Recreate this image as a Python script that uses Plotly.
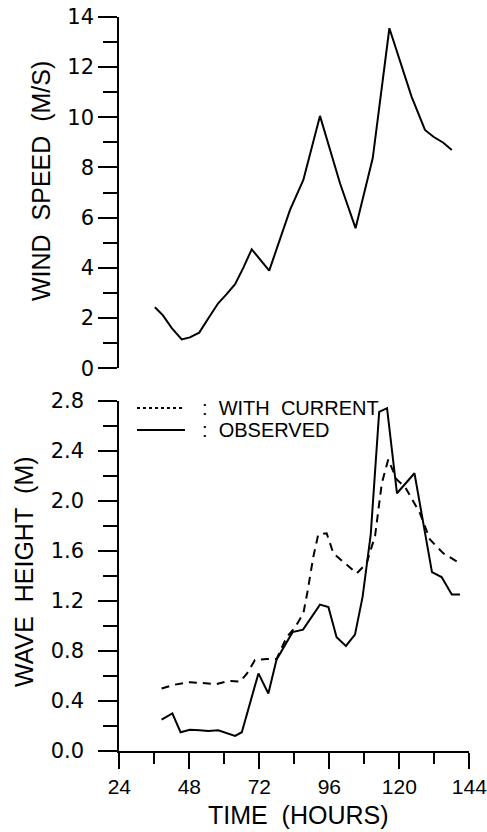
import plotly.graph_objects as go

# ---- data ----
wind_hours = [36.2, 38.9, 42.0, 45.4, 48.2, 51.4, 54.6, 57.9, 60.8, 63.7, 66.5, 69.4,
              75.4, 80.2, 82.5, 87.1, 92.8, 99.7, 105.0, 110.9, 116.6, 124.2,
              128.8, 131.7, 135.1, 138.0]
wind_speed = [2.43, 2.12, 1.60, 1.15, 1.23, 1.42, 2.00, 2.59, 2.95, 3.35, 4.00, 4.74,
              3.89, 5.51, 6.30, 7.50, 10.05, 7.36, 5.58, 8.37, 13.54, 10.82,
              9.49, 9.22, 8.98, 8.69]

obs_hours = [38.5, 42.2, 45.0, 48.2, 51.5, 54.5, 57.9, 60.8, 63.7, 66.0, 68.2, 71.7,
             75.1, 77.9, 83.4, 87.0, 92.8, 95.7, 98.5, 101.7, 104.8, 107.4, 110.2,
             113.1, 115.8, 119.2, 125.2, 131.2, 134.5, 138.0, 140.8]
obs_height = [0.25, 0.30, 0.15, 0.17, 0.165, 0.16, 0.165, 0.145, 0.12, 0.15, 0.34, 0.62,
              0.46, 0.73, 0.95, 0.97, 1.17, 1.15, 0.91, 0.84, 0.93, 1.23, 1.73,
              2.71, 2.74, 2.06, 2.22, 1.43, 1.39, 1.25, 1.25]

cur_hours = [38.5, 43.0, 48.2, 53.0, 57.4, 61.4, 65.4, 67.8, 70.5, 74.5, 77.9, 81.4,
             84.3, 87.1, 88.5, 90.5, 92.2, 95.1, 97.4, 101.4, 105.4, 108.8, 111.7,
             114.0, 116.2, 119.1, 122.0, 127.1, 130.5, 135.1, 140.8]
cur_height = [0.50, 0.53, 0.55, 0.545, 0.535, 0.56, 0.555, 0.62, 0.727, 0.735, 0.735, 0.91,
              0.99, 1.10, 1.27, 1.55, 1.73, 1.74, 1.58, 1.50, 1.42, 1.50, 1.72,
              2.14, 2.33, 2.17, 2.11, 1.90, 1.69, 1.58, 1.50]

x_ticks = [24, 48, 72, 96, 120, 144]
wind_ticks = [0, 2, 4, 6, 8, 10, 12, 14]
wave_ticks = [0.0, 0.4, 0.8, 1.2, 1.6, 2.0, 2.4, 2.8]

W, H = 487, 832
FONT = "Liberation Sans"
TICKFONT = "DejaVu Sans"
NB = "\u00a0"

def px(x):
    return x / W

def py(y):
    return 1 - y / H

fig = go.Figure()
fig.add_trace(go.Scatter(x=wind_hours, y=wind_speed, mode="lines",
                         line=dict(color="black", width=2),
                         xaxis="x", yaxis="y", showlegend=False))
fig.add_trace(go.Scatter(x=cur_hours, y=cur_height, mode="lines",
                         line=dict(color="black", width=2, dash="8px,6px"),
                         xaxis="x2", yaxis="y2", showlegend=False, name="WITH CURRENT"))
fig.add_trace(go.Scatter(x=obs_hours, y=obs_height, mode="lines",
                         line=dict(color="black", width=2),
                         xaxis="x2", yaxis="y2", showlegend=False, name="OBSERVED"))

xdom = [px(119.3), px(469.3)]
ytickfont = dict(family=TICKFONT, size=21, color="black")
xtickfont = dict(family=FONT, size=21, color="black")

fig.update_layout(
    width=W, height=H,
    margin=dict(l=0, r=0, t=0, b=0, autoexpand=False),
    paper_bgcolor="white", plot_bgcolor="white",
    xaxis=dict(domain=xdom, range=[24, 144], visible=False, anchor="y", automargin=False),
    yaxis=dict(domain=[py(368.3), py(16.7)], range=[0, 14], anchor="x", automargin=False,
               showline=True, linecolor="black", linewidth=2,
               ticks="outside", ticklen=19, tickwidth=2, tickcolor="black",
               tickvals=wind_ticks, ticktext=[str(v) for v in wind_ticks],
               minor=dict(dtick=1, tick0=0, ticks="outside", ticklen=14, tickwidth=2, tickcolor="black"),
               showgrid=False, zeroline=False, tickfont=ytickfont),
    xaxis2=dict(domain=xdom, range=[24, 144], anchor="y2", automargin=False,
                showline=True, linecolor="black", linewidth=2,
                ticks="outside", ticklen=16, tickwidth=2, tickcolor="black",
                tickvals=x_ticks, ticktext=[str(v) for v in x_ticks],
                minor=dict(dtick=12, tick0=24, ticks="outside", ticklen=11, tickwidth=2, tickcolor="black"),
                ticklabelstandoff=0, ticklabeloverflow="allow",
                showgrid=False, zeroline=False, tickfont=xtickfont),
    yaxis2=dict(domain=[py(751), py(400.7)], range=[0, 2.8], anchor="x2", automargin=False,
                showline=True, linecolor="black", linewidth=2,
                ticks="outside", ticklen=19, tickwidth=2, tickcolor="black",
                tickvals=wave_ticks, ticktext=[f"{v:.1f}" for v in wave_ticks],
                minor=dict(dtick=0.2, tick0=0, ticks="outside", ticklen=14, tickwidth=2, tickcolor="black"),
                ticklabelstandoff=10,
                showgrid=False, zeroline=False, tickfont=ytickfont),
)

title_font = dict(family=FONT, size=25, color="black")
fig.add_annotation(text=f"WIND{NB}{NB}SPEED{NB}{NB}(M/S)", x=px(41), y=py(181),
                   xref="paper", yref="paper", textangle=-90, showarrow=False,
                   font=title_font, xanchor="center", yanchor="middle")
fig.add_annotation(text=f"WAVE{NB}{NB}HEIGHT{NB}{NB}(M)", x=px(24), y=py(572),
                   xref="paper", yref="paper", textangle=-90, showarrow=False,
                   font=title_font, xanchor="center", yanchor="middle")
fig.add_annotation(text=f"TIME{NB}{NB}(HOURS)", x=px(298), y=py(815),
                   xref="paper", yref="paper", showarrow=False,
                   font=title_font, xanchor="center", yanchor="middle")

# legend drawn as samples + labels
leg_font = dict(family=FONT, size=20, color="black")
fig.add_shape(type="line", xref="paper", yref="paper", x0=px(137), x1=px(185),
              y0=py(408), y1=py(408), line=dict(color="black", width=2, dash="3px,3px"))
fig.add_shape(type="line", xref="paper", yref="paper", x0=px(137), x1=px(185),
              y0=py(430), y1=py(430), line=dict(color="black", width=2))
fig.add_annotation(text=f":{NB}{NB}WITH{NB}{NB}CURRENT", x=px(200), y=py(408),
                   xref="paper", yref="paper", showarrow=False, font=leg_font,
                   xanchor="left", yanchor="middle")
fig.add_annotation(text=f":{NB}{NB}OBSERVED", x=px(200), y=py(430),
                   xref="paper", yref="paper", showarrow=False, font=leg_font,
                   xanchor="left", yanchor="middle")

fig.write_html("out.html")
